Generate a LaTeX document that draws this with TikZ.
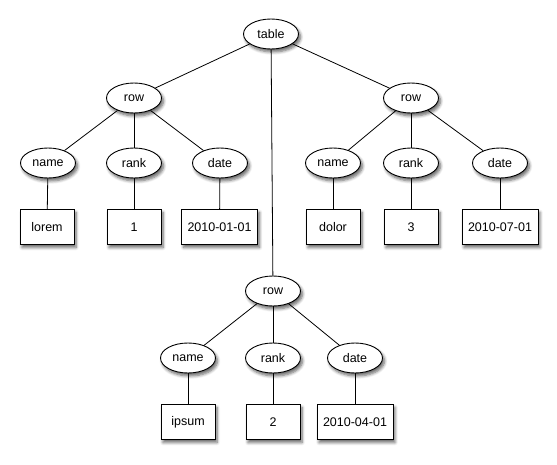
\documentclass[tikz,border=0pt]{standalone}
\usepackage{fontspec}
\setmainfont{Liberation Sans}
\usetikzlibrary{shapes.geometric,shadows.blur}

\tikzset{
  tag/.style={ellipse, draw, fill=white, line width=0.9pt, minimum width=55pt,
    minimum height=30pt, inner sep=0pt, font=\fontsize{12.5}{15}\selectfont,
    blur shadow={shadow xshift=2pt, shadow yshift=-3pt, shadow blur radius=3pt,
      shadow blur steps=6, shadow opacity=60}},
  val/.style={rectangle, draw, fill=white, line width=0.9pt, minimum width=54pt,
    minimum height=35pt, inner xsep=6pt, font=\fontsize{12.5}{15}\selectfont,
    blur shadow={shadow xshift=2pt, shadow yshift=-3pt, shadow blur radius=3pt,
      shadow blur steps=6, shadow opacity=60}},
  link/.style={line width=0.8pt}
}

\begin{document}
\begin{tikzpicture}[x=1pt, y=-1pt]
  \useasboundingbox (0,0) rectangle (557,465);

  % Root
  \node[tag] (table) at (271, 34) {table};

  % Rows
  \node[tag] (rowA) at (134, 98) {row};
  \node[tag] (rowB) at (273, 291) {row};
  \node[tag] (rowC) at (411, 98) {row};

  % First row: lorem
  \node[tag] (nameA) at (48, 163) {name};
  \node[tag] (rankA) at (134, 163) {rank};
  \node[tag] (dateA) at (220, 163) {date};
  \node[val] (lorem) at (47, 227) {lorem};
  \node[val] (one) at (134, 227) {1};
  \node[val] (dA) at (219.5, 227) {2010-01-01};

  % Second row: ipsum
  \node[tag] (nameB) at (188, 358) {name};
  \node[tag] (rankB) at (273, 358) {rank};
  \node[tag] (dateB) at (355, 358) {date};
  \node[val] (ipsum) at (188, 422) {ipsum};
  \node[val] (two) at (273, 422) {2};
  \node[val] (dB) at (355, 422) {2010-04-01};

  % Third row: dolor
  \node[tag] (nameC) at (333, 163) {name};
  \node[tag] (rankC) at (411, 163) {rank};
  \node[tag] (dateC) at (500, 163) {date};
  \node[val] (dolor) at (333, 227) {dolor};
  \node[val] (three) at (411, 227) {3};
  \node[val] (dC) at (500, 227) {2010-07-01};

  % Edges
  \draw[link] (table) -- (rowA);
  \draw[link] (table) -- (rowB);
  \draw[link] (table) -- (rowC);
  \foreach \r/\n/\k/\d/\a/\b/\c in {A/nameA/rankA/dateA/lorem/one/dA,
                                    B/nameB/rankB/dateB/ipsum/two/dB,
                                    C/nameC/rankC/dateC/dolor/three/dC} {
    \draw[link] (row\r) -- (\n);
    \draw[link] (row\r) -- (\k);
    \draw[link] (row\r) -- (\d);
    \draw[link] (\n) -- (\a);
    \draw[link] (\k) -- (\b);
    \draw[link] (\d) -- (\c);
  }
\end{tikzpicture}
\end{document}
